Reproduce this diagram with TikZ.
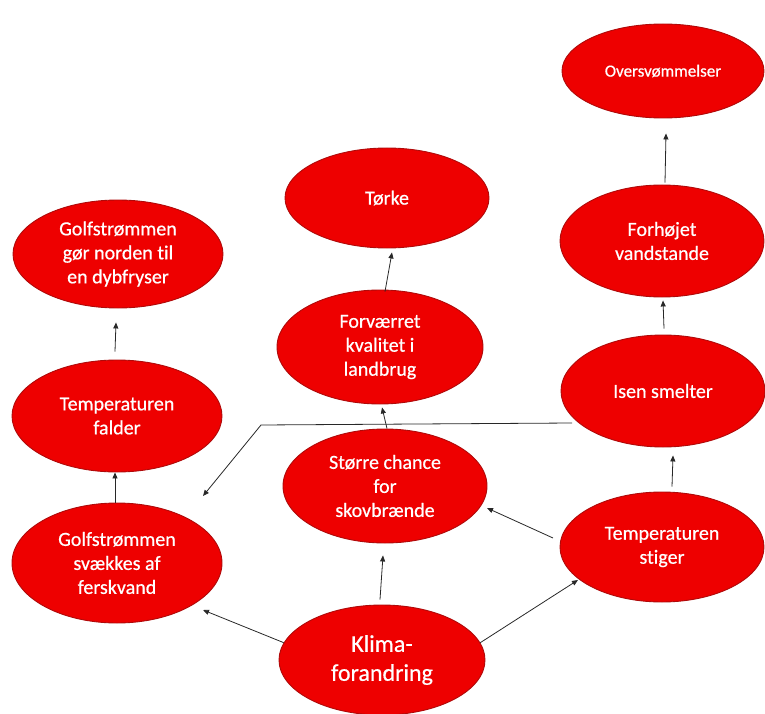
\documentclass[tikz,border=0pt]{standalone}
\usepackage{fontspec}
\setmainfont[Ligatures=NoCommon,FakeBold=0.6]{Carlito}
\usetikzlibrary{shapes.geometric,arrows.meta,calc}
\definecolor{bubble}{RGB}{238,0,0}
\definecolor{rim}{RGB}{175,10,10}
\definecolor{wire}{RGB}{40,40,40}
\begin{document}
\begin{tikzpicture}[x=1pt,y=-1pt,
  bub/.style={ellipse,fill=bubble,draw=rim,line width=0.9pt,inner sep=0pt,
    text=white,align=center,font=\fontsize{20}{24}\selectfont},
  arr/.style={draw=wire,line width=0.8pt,-{Triangle[length=6pt,width=5pt]}}]
\useasboundingbox (0,0) rectangle (765,714);

% right column
\node[bub,minimum width=202pt,minimum height=94pt,font=\fontsize{17}{20}\selectfont] (ovr) at (663,71) {Oversvømmelser};
\node[bub,minimum width=204pt,minimum height=112pt] (foh) at (662,241) {Forhøjet\\vandstande};
\node[bub,minimum width=204pt,minimum height=112pt] (isen) at (663,391) {Isen smelter};
\node[bub,minimum width=204pt,minimum height=110pt] (stg) at (662,547) {Temperaturen\\stiger};

% middle column
\node[bub,minimum width=204pt,minimum height=100pt] (tor) at (387,198) {Tørke};
\node[bub,minimum width=206pt,minimum height=114pt] (forv) at (380,347) {Forværret\\kvalitet i\\landbrug};
\node[bub,minimum width=204pt,minimum height=114pt] (stor) at (385,486) {Større chance\\for\\skovbrænde};
\node[bub,minimum width=206pt,minimum height=110pt,font=\fontsize{24}{29}\selectfont] (klima) at (382,660) {Klima-\\forandring};

% left column
\node[bub,minimum width=210pt,minimum height=108pt] (gor) at (118,254) {Golfstrømmen\\gør norden til\\en dybfryser};
\node[bub,minimum width=210pt,minimum height=112pt] (fal) at (117,416) {Temperaturen\\falder};
\node[bub,minimum width=210pt,minimum height=120pt] (svk) at (117,563) {Golfstrømmen\\svækkes af\\ferskvand};

% vertical links
\draw[arr] ([xshift=-2pt]svk.north) -- ([xshift=-2pt]fal.south);
\draw[arr] ([xshift=-2pt,yshift=8pt]fal.north) -- ([xshift=-2pt,yshift=-14pt]gor.south);
\draw[arr] ([xshift=2pt]stor.north) -- ([xshift=2pt,yshift=-3pt]forv.south);
\draw[arr] ([xshift=5pt,yshift=-2pt]forv.north) -- ([xshift=5pt,yshift=-4pt]tor.south);
\draw[arr] ([xshift=-2pt,yshift=5pt]klima.north) -- ([xshift=-2pt,yshift=-12pt]stor.south);
\draw[arr] ([xshift=10pt,yshift=5pt]stg.north) -- ([xshift=10pt,yshift=-8pt]isen.south);
\draw[arr] ([xshift=1pt,yshift=6pt]isen.north) -- ([xshift=1pt,yshift=-3pt]foh.south);
\draw[arr] ([xshift=3pt,yshift=2pt]foh.north) -- ([xshift=3pt,yshift=-15pt]ovr.south);

% diagonal links
\draw[arr] (klima.170) -- ($(svk.center)+(86,47)$);
\draw[arr] (klima.10) -- ($(stg.center)+(-84,33)$);
\draw[arr] ($(stg.center)+(-109,-9)$) -- ($(stor.center)+(102,22)$);

% melting ice feeding the weakened current
\coordinate (bend) at (261,425);
\draw[arr] ($(isen.center)+(-91,32)$) -- (bend) -- ($(svk.center)+(86,-67)$);
\end{tikzpicture}
\end{document}
